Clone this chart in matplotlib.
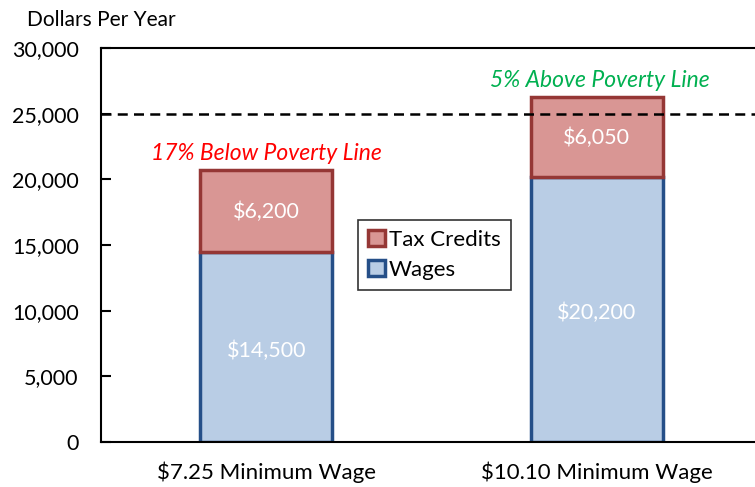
import numpy as np
import matplotlib
matplotlib.use("Agg")
import matplotlib.pyplot as plt

# Dados
categorias = ["$7.25 Minimum Wage", "$10.10 Minimum Wage"]
salarios = [14500, 20200]
creditos = [6200, 6050]
linha_pobreza = 25000
notas = ["17% Below Poverty Line", "5% Above Poverty Line"]
cores_notas = ["#FF0000", "#00B050"]

plt.rcParams["font.family"] = ["Lato", "DejaVu Sans"]

fig = plt.figure(figsize=(7.55, 4.87), dpi=100)
ax = fig.add_axes([101 / 755, 1 - 442 / 487, 661 / 755, 394 / 487])

x = np.arange(len(categorias))
largura = 0.4

b1 = ax.bar(x, salarios, largura, color="#B9CDE5", edgecolor="#254F88",
            linewidth=2.5, label="Wages", zorder=2)
b2 = ax.bar(x, creditos, largura, bottom=salarios, color="#D99694",
            edgecolor="#953735", linewidth=2.5, label="Tax Credits", zorder=2)

# Linha de pobreza
ax.axhline(linha_pobreza, color="black", linestyle=(0, (4, 2.5)), linewidth=1.8, zorder=3)

# Valores dentro das barras
for i in range(len(categorias)):
    ax.text(x[i], salarios[i] / 2 - 300, f"${salarios[i]:,}", ha="center", va="center",
            color="white", fontsize=15.5)
    ax.text(x[i], salarios[i] + creditos[i] / 2 - 100, f"${creditos[i]:,}", ha="center",
            va="center", color="white", fontsize=15.5)
    topo = salarios[i] + creditos[i]
    ax.text(x[i] + 0.01 * i, topo + 1300, notas[i], ha="center", va="center",
            color=cores_notas[i], fontsize=16.5, style="italic")

ax.set_xlim(-0.5, 1.5)
ax.set_ylim(0, 30000)
ax.set_yticks(range(0, 30001, 5000))
ax.set_yticklabels([f"{v:,}" for v in range(0, 30001, 5000)], fontsize=15.5)
ax.set_xticks(x)
ax.set_xticklabels(categorias, fontsize=16)
ax.tick_params(axis="x", length=0, pad=14)
ax.tick_params(axis="y", direction="in", length=7, width=1.5, pad=16)
for s in ax.spines.values():
    s.set_linewidth(1.5)

fig.text(27 / 755, 1 - 20 / 487, "Dollars Per Year", fontsize=15, ha="left", va="center")

handles = [b2, b1]
leg = ax.legend(handles, ["Tax Credits", "Wages"], loc="upper left",
                bbox_to_anchor=((358 - 101) / 661, (442 - 220) / 394),
                fontsize=16, frameon=True, fancybox=False, edgecolor="black",
                handlelength=0.75, handleheight=0.75, handletextpad=0.2,
                borderpad=0.45, labelspacing=0.45, borderaxespad=0)
leg.get_frame().set_linewidth(1.2)
for h in leg.legend_handles:
    h.set_linewidth(2.5)

fig.savefig("out.png", dpi=100)
